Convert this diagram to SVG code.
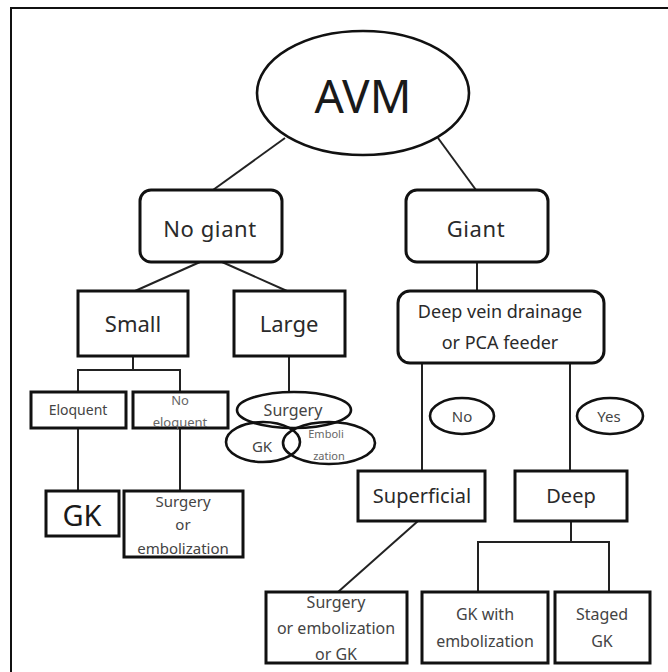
<svg xmlns="http://www.w3.org/2000/svg" width="668" height="672" viewBox="0 0 668 672">
<style>
  .box { fill: #fff; stroke: #111; stroke-width: 3; }
  .oval { fill: none; stroke: #111; stroke-width: 2.6; }
  .conn { fill: none; stroke: #222; stroke-width: 2; }
  text { font-family: "Noto Sans", "Open Sans", sans-serif; text-anchor: middle; }
  .big { fill: #1a1a1a; }
  .mid { fill: #2a2a2a; }
  .sm { fill: #444; }
  .tiny { fill: #666; }
</style>
<rect x="0" y="0" width="668" height="672" fill="#fff"/>
<path d="M11 672 V8 H668" fill="none" stroke="#111" stroke-width="2"/>
<g id="connectors">
  <line class="conn" x1="285" y1="138" x2="213" y2="190"/>
  <line class="conn" x1="438" y1="138" x2="476" y2="190"/>
  <line class="conn" x1="200" y1="262" x2="135" y2="291"/>
  <line class="conn" x1="222" y1="262" x2="287" y2="291"/>
  <path class="conn" d="M133 356 V370 M78 392 V370 H180 V392"/>
  <line class="conn" x1="289" y1="356" x2="289" y2="393"/>
  <line class="conn" x1="78" y1="428" x2="78" y2="491"/>
  <line class="conn" x1="180" y1="428" x2="180" y2="491"/>
  <line class="conn" x1="477" y1="262" x2="477" y2="291"/>
  <line class="conn" x1="422" y1="363" x2="422" y2="471"/>
  <line class="conn" x1="570" y1="363" x2="570" y2="471"/>
  <line class="conn" x1="418" y1="521" x2="338" y2="592"/>
  <path class="conn" d="M571 521 V542 M478 592 V542 H609 V592"/>
</g>
<g id="avm">
  <ellipse class="oval" cx="363" cy="93" rx="106" ry="62" fill="#fff"/>
  <text class="big" x="363" y="113" font-size="46">AVM</text>
</g>
<g id="no-giant">
  <rect class="box" x="140" y="190" width="142" height="72" rx="11"/>
  <text class="mid" x="210" y="237" font-size="22" letter-spacing="0.6">No giant</text>
</g>
<g id="giant">
  <rect class="box" x="406" y="190" width="142" height="72" rx="11"/>
  <text class="mid" x="476" y="237" font-size="22" letter-spacing="0.6">Giant</text>
</g>
<g id="small">
  <rect class="box" x="78" y="291" width="110" height="65"/>
  <text class="mid" x="133" y="332" font-size="22">Small</text>
</g>
<g id="large">
  <rect class="box" x="234" y="291" width="111" height="65"/>
  <text class="mid" x="289" y="332" font-size="22">Large</text>
</g>
<g id="eloquent">
  <rect class="box" x="31" y="392" width="95" height="36"/>
  <text class="sm" x="78" y="415" font-size="14">Eloquent</text>
</g>
<g id="no-eloquent">
  <rect class="box" x="133" y="392" width="95" height="36"/>
  <text class="tiny" x="180" y="405" font-size="13">No</text>
  <text class="tiny" x="180" y="427" font-size="13">eloquent</text>
</g>
<g id="surgery-option">
  <ellipse class="oval" cx="294" cy="410" rx="57" ry="18"/>
  <text class="sm" x="293" y="416" font-size="16">Surgery</text>
</g>
<g id="gk-option">
  <ellipse class="oval" cx="263" cy="442" rx="37" ry="20"/>
  <text class="sm" x="262" y="452" font-size="15">GK</text>
</g>
<g id="embolization-option">
  <ellipse class="oval" cx="329" cy="443" rx="46" ry="21"/>
  <text class="tiny" x="326" y="438" font-size="11">Emboli</text>
  <text class="tiny" x="329" y="460" font-size="11">zation</text>
</g>
<g id="gk">
  <rect class="box" x="46" y="491" width="73" height="45"/>
  <text class="big" x="82" y="526" font-size="29">GK</text>
</g>
<g id="surgery-or-embolization">
  <rect class="box" x="124" y="491" width="119" height="66"/>
  <text class="sm" x="183" y="507" font-size="15">Surgery</text>
  <text class="sm" x="183" y="530" font-size="15">or</text>
  <text class="sm" x="183" y="554" font-size="15">embolization</text>
</g>
<g id="deep-vein">
  <rect class="box" x="398" y="291" width="206" height="72" rx="12"/>
  <text class="mid" x="500" y="318" font-size="18">Deep vein drainage</text>
  <text class="mid" x="500" y="349" font-size="18">or PCA feeder</text>
</g>
<g id="no-label">
  <ellipse class="oval" cx="462" cy="416" rx="32" ry="18"/>
  <text class="sm" x="462" y="422" font-size="15">No</text>
</g>
<g id="yes-label">
  <ellipse class="oval" cx="610" cy="416" rx="33" ry="18"/>
  <text class="sm" x="609" y="422" font-size="15">Yes</text>
</g>
<g id="superficial">
  <rect class="box" x="358" y="471" width="127" height="50"/>
  <text class="mid" x="422" y="503" font-size="20">Superficial</text>
</g>
<g id="deep">
  <rect class="box" x="515" y="471" width="112" height="50"/>
  <text class="mid" x="571" y="503" font-size="20">Deep</text>
</g>
<g id="surgery-embolization-gk">
  <rect class="box" x="266" y="592" width="141" height="71"/>
  <text class="sm" x="336" y="608" font-size="16">Surgery</text>
  <text class="sm" x="336" y="634" font-size="16">or embolization</text>
  <text class="sm" x="336" y="660" font-size="16">or GK</text>
</g>
<g id="gk-with-embolization">
  <rect class="box" x="422" y="592" width="126" height="71"/>
  <text class="sm" x="485" y="620" font-size="16">GK with</text>
  <text class="sm" x="485" y="647" font-size="16">embolization</text>
</g>
<g id="staged-gk">
  <rect class="box" x="555" y="592" width="95" height="71"/>
  <text class="sm" x="602" y="620" font-size="16">Staged</text>
  <text class="sm" x="602" y="647" font-size="16">GK</text>
</g>
</svg>
